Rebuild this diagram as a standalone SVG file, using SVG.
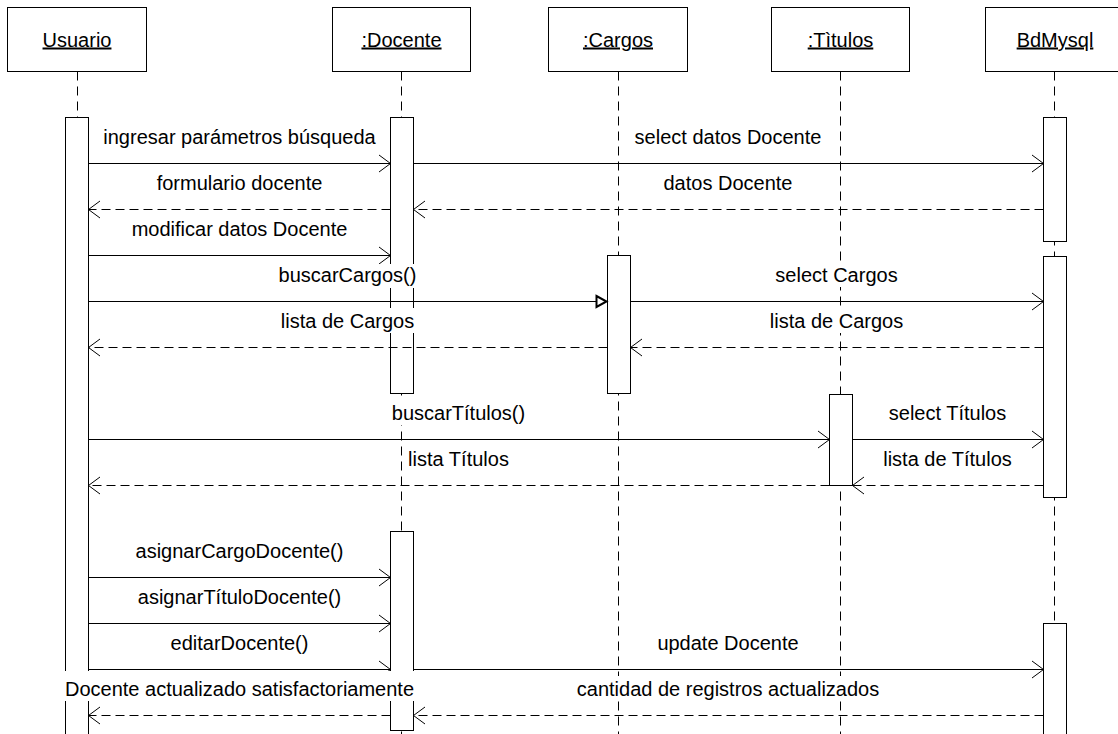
<svg xmlns="http://www.w3.org/2000/svg" width="1118" height="734" viewBox="0 0 1118 734">
<style>
  .hdr { fill: #fff; stroke: #000; stroke-width: 1; }
  .life { stroke: #000; stroke-width: 1; stroke-dasharray: 9,6; fill: none; }
  .act { fill: #fff; stroke: #000; stroke-width: 1; }
  .msg { stroke: #000; stroke-width: 1; fill: none; marker-end: url(#open); }
  .ret { stroke: #000; stroke-width: 1; fill: none; stroke-dasharray: 9,5; marker-end: url(#open); }
  .call { stroke: #000; stroke-width: 1; fill: none; marker-end: url(#tri); }
  .name { font-family: "Liberation Sans", Arial, sans-serif; font-size: 20px; fill: #000; text-anchor: middle; text-decoration: underline; }
  .lbl { font-family: "Liberation Sans", Arial, sans-serif; font-size: 20px; fill: #000; text-anchor: middle; }
  .bg { fill: #fff; stroke: none; }
</style>
<defs>
  <marker id="open" markerUnits="userSpaceOnUse" markerWidth="16" markerHeight="22" viewBox="-14 -11 16 22" refX="0" refY="0" orient="auto" overflow="visible">
    <path d="M-11.5,-8.5 L0,0 L-11.5,8.5" fill="none" stroke="#000" stroke-width="1" stroke-dasharray="none"/>
  </marker>
  <marker id="tri" markerUnits="userSpaceOnUse" markerWidth="16" markerHeight="16" viewBox="-14 -8 16 16" refX="0" refY="0" orient="auto" overflow="visible">
    <path d="M-11,-5.5 L-1,0 L-11,5.5 Z" fill="#fff" stroke="#000" stroke-width="2" stroke-dasharray="none"/>
  </marker>
</defs>
<rect width="1118" height="734" fill="#fff"/>

<g id="usuario">
  <rect class="hdr" x="7.5" y="7.5" width="139" height="64"/>
  <text class="name" x="77" y="46.5">Usuario</text>
  <line class="life" x1="77.5" y1="71.5" x2="77.5" y2="734"/>
  <rect class="act" x="65.5" y="117.5" width="23" height="630"/>
</g>

<g id="docente">
  <rect class="hdr" x="332.5" y="7.5" width="138" height="64"/>
  <text class="name" x="401.5" y="46.5">:Docente</text>
  <line class="life" x1="401.5" y1="71.5" x2="401.5" y2="734"/>
  <rect class="act" x="390.5" y="117.5" width="23" height="276"/>
  <rect class="act" x="390.5" y="531.5" width="23" height="199"/>
</g>

<g id="cargos">
  <rect class="hdr" x="548.5" y="7.5" width="139" height="64"/>
  <text class="name" x="618" y="46.5">:Cargos</text>
  <line class="life" x1="618.5" y1="71.5" x2="618.5" y2="734"/>
  <rect class="act" x="607.5" y="255.5" width="23" height="138"/>
</g>

<g id="titulos">
  <rect class="hdr" x="771.5" y="7.5" width="138" height="64"/>
  <text class="name" x="840.5" y="46.5">:Tìtulos</text>
  <line class="life" x1="840.5" y1="71.5" x2="840.5" y2="734"/>
  <rect class="act" x="829.5" y="394.5" width="23" height="91"/>
</g>

<g id="bdmysql">
  <rect class="hdr" x="985.5" y="7.5" width="139" height="64"/>
  <text class="name" x="1055" y="46.5">BdMysql</text>
  <line class="life" x1="1054.5" y1="71.5" x2="1054.5" y2="734"/>
  <rect class="act" x="1043.5" y="117.5" width="23" height="124"/>
  <rect class="act" x="1043.5" y="256.5" width="23" height="241"/>
  <rect class="act" x="1043.5" y="623.5" width="23" height="130"/>
</g>

<g id="connectors">
  <line class="msg" x1="88.5" y1="163.5" x2="390.5" y2="163.5"/>
  <line class="msg" x1="413.5" y1="163.5" x2="1043.5" y2="163.5"/>
  <line class="ret" x1="1043.5" y1="209.5" x2="413.5" y2="209.5"/>
  <line class="ret" x1="390.5" y1="209.5" x2="88.5" y2="209.5"/>
  <line class="msg" x1="88.5" y1="255.5" x2="390.5" y2="255.5"/>
  <line class="call" x1="88.5" y1="301.5" x2="607.5" y2="301.5"/>
  <line class="msg" x1="630.5" y1="301.5" x2="1043.5" y2="301.5"/>
  <line class="ret" x1="1043.5" y1="347.5" x2="630.5" y2="347.5"/>
  <line class="ret" x1="607.5" y1="347.5" x2="88.5" y2="347.5"/>
  <line class="msg" x1="88.5" y1="439.5" x2="829.5" y2="439.5"/>
  <line class="msg" x1="852.5" y1="439.5" x2="1043.5" y2="439.5"/>
  <line class="ret" x1="1043.5" y1="485.5" x2="852.5" y2="485.5"/>
  <line class="ret" x1="829.5" y1="485.5" x2="88.5" y2="485.5"/>
  <line class="msg" x1="88.5" y1="577.5" x2="390.5" y2="577.5"/>
  <line class="msg" x1="88.5" y1="623.5" x2="390.5" y2="623.5"/>
  <line class="msg" x1="88.5" y1="669.5" x2="390.5" y2="669.5"/>
  <line class="msg" x1="413.5" y1="669.5" x2="1043.5" y2="669.5"/>
  <line class="ret" x1="1043.5" y1="715.5" x2="413.5" y2="715.5"/>
  <line class="ret" x1="390.5" y1="715.5" x2="88.5" y2="715.5"/>

  <rect class="bg" x="279" y="264" width="137" height="24"/>
  <rect class="bg" x="280" y="308" width="135" height="25"/>
  <rect class="bg" x="774" y="263" width="125" height="24"/>
  <rect class="bg" x="769" y="308" width="136" height="25"/>
  <rect class="bg" x="391" y="400" width="135" height="25"/>
  <rect class="bg" x="62" y="671" width="356" height="30"/>
  <rect class="bg" x="576" y="676" width="305" height="25"/>

  <text class="lbl" x="239.5" y="143.5">ingresar parámetros búsqueda</text>
  <text class="lbl" x="728" y="143.5">select datos Docente</text>
  <text class="lbl" x="239.5" y="189.5">formulario docente</text>
  <text class="lbl" x="728" y="189.5">datos Docente</text>
  <text class="lbl" x="239.5" y="235.5">modificar datos Docente</text>
  <text class="lbl" x="347.5" y="281.5">buscarCargos()</text>
  <text class="lbl" x="836.5" y="281.5">select Cargos</text>
  <text class="lbl" x="347.5" y="327.5">lista de Cargos</text>
  <text class="lbl" x="836.5" y="327.5">lista de Cargos</text>
  <text class="lbl" x="458.5" y="419.5">buscarTítulos()</text>
  <text class="lbl" x="947.5" y="419.5">select Títulos</text>
  <text class="lbl" x="458.5" y="465.5">lista Títulos</text>
  <text class="lbl" x="947.5" y="465.5">lista de Títulos</text>
  <text class="lbl" x="239.5" y="557.5">asignarCargoDocente()</text>
  <text class="lbl" x="239.5" y="603.5">asignarTítuloDocente()</text>
  <text class="lbl" x="239.5" y="649.5">editarDocente()</text>
  <text class="lbl" x="728" y="649.5">update Docente</text>
  <text class="lbl" x="239.5" y="695.5">Docente actualizado satisfactoriamente</text>
  <text class="lbl" x="728" y="695.5">cantidad de registros actualizados</text>
</g>
</svg>
